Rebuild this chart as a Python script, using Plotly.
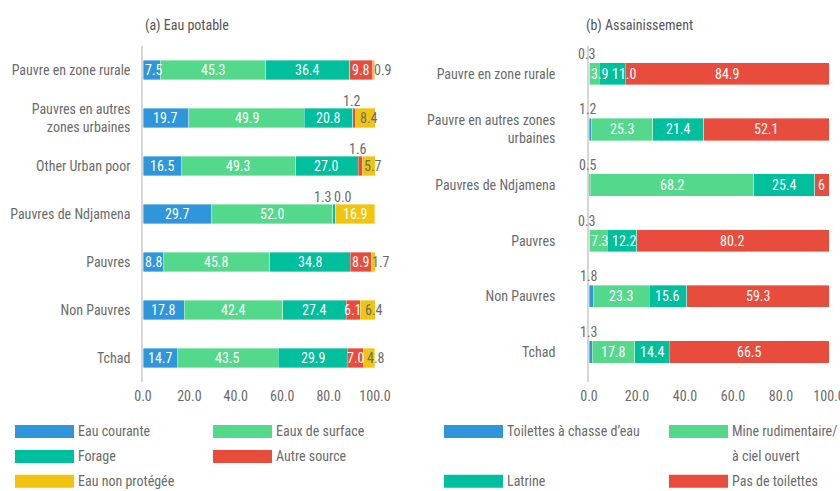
import plotly.graph_objects as go

# ---------------- data ----------------
water_categories = ["Pauvre en zone rurale", "Pauvres en autres<br>zones urbaines", "Other Urban poor",
                    "Pauvres de Ndjamena", "Pauvres", "Non Pauvres", "Tchad"]
water_series = ["Eau courante", "Eaux de surface", "Forage", "Autre source", "Eau non protégée"]
eau_courante = [7.5, 19.7, 16.5, 29.7, 8.8, 17.8, 14.7]
eaux_de_surface = [45.3, 49.9, 49.3, 52.0, 45.8, 42.4, 43.5]
forage = [36.4, 20.8, 27.0, 1.3, 34.8, 27.4, 29.9]
autre_source = [9.8, 1.2, 1.6, 0.0, 8.9, 6.1, 7.0]
eau_non_protegee = [0.9, 8.4, 5.7, 16.9, 1.7, 6.4, 4.8]

san_categories = ["Pauvre en zone rurale", "Pauvre en autres zones<br>urbaines", "Pauvres de Ndjamena",
                  "Pauvres", "Non Pauvres", "Tchad"]
san_series = ["Toilettes à chasse d’eau", "Mine rudimentaire/<br>à ciel ouvert", "Latrine", "Pas de toilettes"]
toilettes_chasse = [0.3, 1.2, 0.5, 0.3, 1.8, 1.3]
mine_rudimentaire = [3.9, 25.3, 68.2, 7.3, 23.3, 17.8]
latrine = [11.0, 21.4, 25.4, 12.2, 15.6, 14.4]
pas_de_toilettes = [84.9, 52.1, 5.9, 80.2, 59.3, 66.5]

x_ticks = [0, 20, 40, 60, 80, 100]
titles = ["(a) Eau potable", "(b) Assainissement"]

# ---------------- style ----------------
W, H = 840, 491
MT, MB = 46, 108.5
PH = H - MT - MB
FONT = "Roboto Condensed, Liberation Sans Narrow, Roboto, sans-serif"
FS = 14
GREY = "#6b6b6b"
water_colors = ["#2f96dc", "#54d98c", "#00bf9c", "#e84c3d", "#f1c40f"]
san_colors = ["#2f96dc", "#54d98c", "#00bf9c", "#e84c3d"]
LEFT_DOM = [143 / W, 375 / W]
RIGHT_DOM = [589 / W, 829 / W]


def px_x(px):
    return px / W


def px_y(py):
    return (H - MB - py) / PH


def text_w(txt):
    # rough pixel width estimate for numeric labels
    return sum(3.6 if ch == "." else 7.9 for ch in txt)


fig = go.Figure()
annotations = []
shapes = []


def add_panel(categories, series_names, series_values, colors, xa, ya, dom, panel):
    px_per_unit = (dom[1] - dom[0]) * W / 100.0
    n = len(series_values)
    for name, vals, col in zip(series_names, series_values, colors):
        fig.add_trace(go.Bar(
            y=categories, x=vals, name=name.replace("<br>", " "), orientation="h",
            marker=dict(color=col, line=dict(color="rgba(255,255,255,0.6)", width=0.6)),
            xaxis=xa, yaxis=ya, showlegend=False, hoverinfo="x+y+name",
        ))
    xref = "x" if xa == "x" else "x2"
    yref = "y" if ya == "y" else "y2"
    above_shift = 17 if panel == 0 else 20
    for ci, cat in enumerate(categories):
        start = 0.0
        above = []
        prev_right = 0.0  # labels never start left of the bar start
        for si in range(n):
            v = series_values[si][ci]
            center = start + v / 2.0
            last = si == n - 1
            if panel == 1 and last and v < 7:
                txt = f"{v:.0f}"
            else:
                txt = f"{v:.1f}"
            cpx = center * px_per_unit
            w = text_w(txt)
            if not last and v < 2:
                above.append((center, txt))
            elif last and v < 2:
                annotations.append(dict(x=start, y=cat, xref=xref, yref=yref, text=txt,
                                        showarrow=False, xanchor="left", xshift=-1,
                                        font=dict(color=GREY, size=FS, family=FONT)))
            else:
                grey = panel == 0 and last and v < 10
                base = 4 if grey else 0
                shift = base
                if cpx + base - w / 2 < prev_right + 1:
                    shift = prev_right + 1 - (cpx - w / 2)
                prev_right = cpx + shift + w / 2
                annotations.append(dict(x=center, y=cat, xref=xref, yref=yref, text=txt,
                                        showarrow=False, xanchor="center", xshift=shift,
                                        font=dict(color=GREY if grey else "white",
                                                  size=FS, family=FONT)))
            start += v
        # spread labels placed above the bar if they collide
        if above:
            k = len(above)
            mean_c = sum(c for c, _ in above) / k
            for j, (c, txt) in enumerate(above):
                shift = 0
                if k > 1:
                    shift = (j - (k - 1) / 2.0) * 20 - (c - mean_c) * px_per_unit
                annotations.append(dict(x=c, y=cat, xref=xref, yref=yref, text=txt,
                                        showarrow=False, xanchor="center", xshift=shift - 2,
                                        yshift=above_shift,
                                        font=dict(color=GREY, size=FS, family=FONT)))


add_panel(water_categories, water_series,
          [eau_courante, eaux_de_surface, forage, autre_source, eau_non_protegee],
          water_colors, "x", "y", LEFT_DOM, 0)
add_panel(san_categories, san_series,
          [toilettes_chasse, mine_rudimentaire, latrine, pas_de_toilettes],
          san_colors, "x2", "y2", RIGHT_DOM, 1)

# titles
annotations.append(dict(x=px_x(143), y=px_y(25), xref="paper", yref="paper", text=titles[0],
                        showarrow=False, xanchor="left", yanchor="middle",
                        font=dict(color="#555", size=FS, family=FONT)))
annotations.append(dict(x=px_x(584), y=px_y(25), xref="paper", yref="paper", text=titles[1],
                        showarrow=False, xanchor="left", yanchor="middle",
                        font=dict(color="#555", size=FS, family=FONT)))


# legends drawn manually (wide swatches)
def draw_legend(names, colors, col_x):
    row_y = 432
    for i in range(0, len(names), 2):
        row_items = list(zip(names[i:i + 2], colors[i:i + 2], col_x))
        max_lines = 1
        for name, col, sx in row_items:
            lines = name.split("<br>")
            max_lines = max(max_lines, len(lines))
            shapes.append(dict(type="rect", xref="paper", yref="paper",
                               x0=px_x(sx), x1=px_x(sx + 59),
                               y0=px_y(row_y - 6.5), y1=px_y(row_y + 6.5),
                               fillcolor=col, line=dict(width=0)))
            for li, line in enumerate(lines):
                annotations.append(dict(x=px_x(sx + 61), y=px_y(row_y + 25 * li),
                                        xref="paper", yref="paper", text=line,
                                        showarrow=False, xanchor="left", yanchor="middle",
                                        font=dict(color=GREY, size=FS, family=FONT)))
        row_y += 25 * max_lines


draw_legend(water_series, water_colors, [15, 213])
draw_legend(san_series, san_colors, [444, 669])

axis_common = dict(range=[0, 100], tickvals=x_ticks, tickformat=".1f", showgrid=False,
                   zeroline=False, showline=False, ticks="", fixedrange=True, automargin=False,
                   ticklabeloverflow="allow", ticklabelstandoff=4,
                   tickfont=dict(color=GREY, size=FS, family=FONT))
yaxis_common = dict(autorange="reversed", showgrid=False, zeroline=False, showline=True,
                    linecolor="#d6d6d6", linewidth=1.5, ticks="", automargin=False,
                    fixedrange=True, tickfont=dict(color=GREY, size=FS, family=FONT))

fig.update_layout(
    width=W, height=H,
    margin=dict(l=0, r=0, t=MT, b=MB, pad=0),
    barmode="stack", bargap=0.6,
    paper_bgcolor="white", plot_bgcolor="white",
    font=dict(family=FONT, color=GREY, size=FS),
    xaxis=dict(domain=LEFT_DOM, anchor="y", **axis_common),
    xaxis2=dict(domain=RIGHT_DOM, anchor="y2", **axis_common),
    yaxis=dict(domain=[0, 1], anchor="x", ticklabelstandoff=8, **yaxis_common),
    yaxis2=dict(domain=[0, 1], anchor="x2", ticklabelstandoff=29, **yaxis_common),
    annotations=annotations, shapes=shapes,
    showlegend=False,
)

fig.write_html("out.html", config={"displayModeBar": False},
               post_script="document.body.style.margin='0';document.body.style.padding='0';")
